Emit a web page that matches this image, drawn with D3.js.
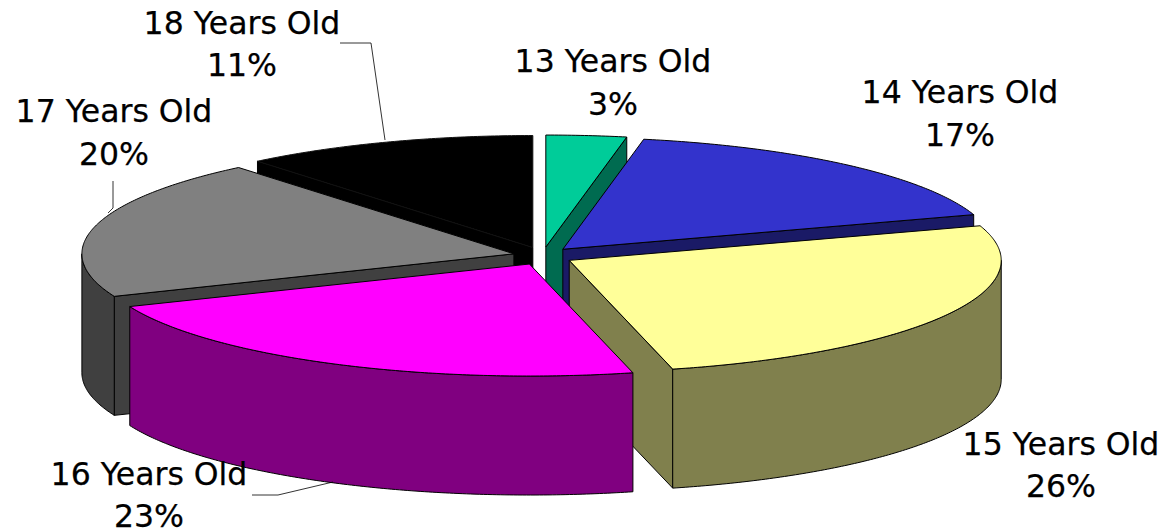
<!DOCTYPE html>
<html>
<head>
<meta charset="utf-8">
<script src="https://cdn.jsdelivr.net/npm/d3@7"></script>
<style>
	html, body {margin: 0; padding: 0; background: #fff;}
	svg {display: block;}
	text {font-family: 'DejaVu Sans', Verdana, sans-serif; font-size: 31.5px; font-weight: normal; fill: #000; stroke: #000; stroke-width: 0.25px;}
</style>
</head>
<body>
<div id="chart"></div>
<script>
// Values

var categories = ['13 Years Old', '14 Years Old', '15 Years Old', '16 Years Old', '17 Years Old', '18 Years Old'];
var shares = [3, 17, 26.15, 22.65, 20.2, 11];
var topColors = ['#00cc99', '#3333cc', '#ffff99', '#ff00ff', '#808080', '#000000'];
var sideColors = ['#006b50', '#1a1a66', '#80804d', '#800080', '#404040', '#000000'];
var edgeColors = ['#000', '#000', '#000', '#000', '#000', '#121212'];

// Layout

var width = 1172, height = 531,
	cx = 543, cy = 256,
	rx = 432, ry = 112,
	depth = 119,
	explodeX = 30, explodeY = 9,
	lineGap = 42.5,
	drawOrder = [5, 0, 1, 4, 2, 3];

var labelPos = [[613, 72], [960, 103], [1061, 454.5], [149, 484.5], [114, 122], [242, 33.5]];
var leaders = [
	null,
	null,
	null,
	[[252, 495], [278, 495], [333, 482]],
	[[113, 181], [113, 208], [108, 213]],
	[[340, 43], [371, 43], [385, 140]]
];

var svg = d3.select('#chart').append('svg')
	.attr('width', width)
	.attr('height', height);

// Flatten a pie angle onto the tilted ellipse

var px = d3.scaleLinear().domain([0, 1]).range([0, rx]),
	py = d3.scaleLinear().domain([0, 1]).range([0, ry]);

var pie = d3.pie().sort(null).startAngle(0).endAngle(2 * Math.PI);
var slices = pie(shares);

var line = d3.line();

function rim(ox, oy, a, dy) {
	return [ox + px(Math.sin(a)), oy - py(Math.cos(a)) + (dy || 0)];
}

function arcPoints(ox, oy, a0, a1, dy) {
	var n = Math.max(2, Math.ceil(Math.abs(a1 - a0) / 0.01));
	return d3.range(n + 1).map(function(i) {
		return rim(ox, oy, a0 + (a1 - a0) * i / n, dy);
	});
}

drawOrder.forEach(function(i) {
	var s = slices[i],
		mid = (s.startAngle + s.endAngle) / 2,
		ox = cx + explodeX * Math.sin(mid),
		oy = cy - explodeY * Math.cos(mid),
		g = svg.append('g').attr('class', 'slice'),
		side = sideColors[i];

	function wall(pts) {
		g.append('path')
			.attr('d', line(pts) + 'Z')
			.attr('fill', side)
			.attr('stroke', '#000')
			.attr('stroke-width', 1)
			.attr('stroke-linejoin', 'round');
	}

	function cutFace(a) {
		var p = rim(ox, oy, a), q = rim(ox, oy, a, depth);
		wall([[ox, oy], p, q, [ox, oy + depth]]);
	}

	// cut faces turned to the viewer
	if (Math.sin(s.startAngle) < -1e-6) cutFace(s.startAngle);
	if (Math.sin(s.endAngle) > 1e-6) cutFace(s.endAngle);

	// outer wall, front half only
	var a0 = Math.max(s.startAngle, Math.PI / 2),
		a1 = Math.min(s.endAngle, 3 * Math.PI / 2);
	if (a1 > a0) {
		wall(arcPoints(ox, oy, a0, a1).concat(arcPoints(ox, oy, a1, a0, depth)));
	}

	// top
	g.append('path')
		.attr('d', line([[ox, oy]].concat(arcPoints(ox, oy, s.startAngle, s.endAngle))) + 'Z')
		.attr('fill', topColors[i])
		.attr('stroke', edgeColors[i])
		.attr('stroke-width', 1)
		.attr('stroke-linejoin', 'round');
});

// Leader lines

leaders.forEach(function(l) {
	if (!l) return;
	svg.append('path')
		.attr('d', line(l))
		.attr('fill', 'none')
		.attr('stroke', '#000')
		.attr('stroke-width', 0.8);
});

// Labels

categories.forEach(function(c, i) {
	var t = svg.append('text')
		.attr('text-anchor', 'middle')
		.attr('x', labelPos[i][0])
		.attr('y', labelPos[i][1]);
	t.append('tspan').text(c);
	t.append('tspan')
		.attr('x', labelPos[i][0])
		.attr('dy', lineGap)
		.text(Math.round(shares[i]) + '%');
});
</script>
</body>
</html>
